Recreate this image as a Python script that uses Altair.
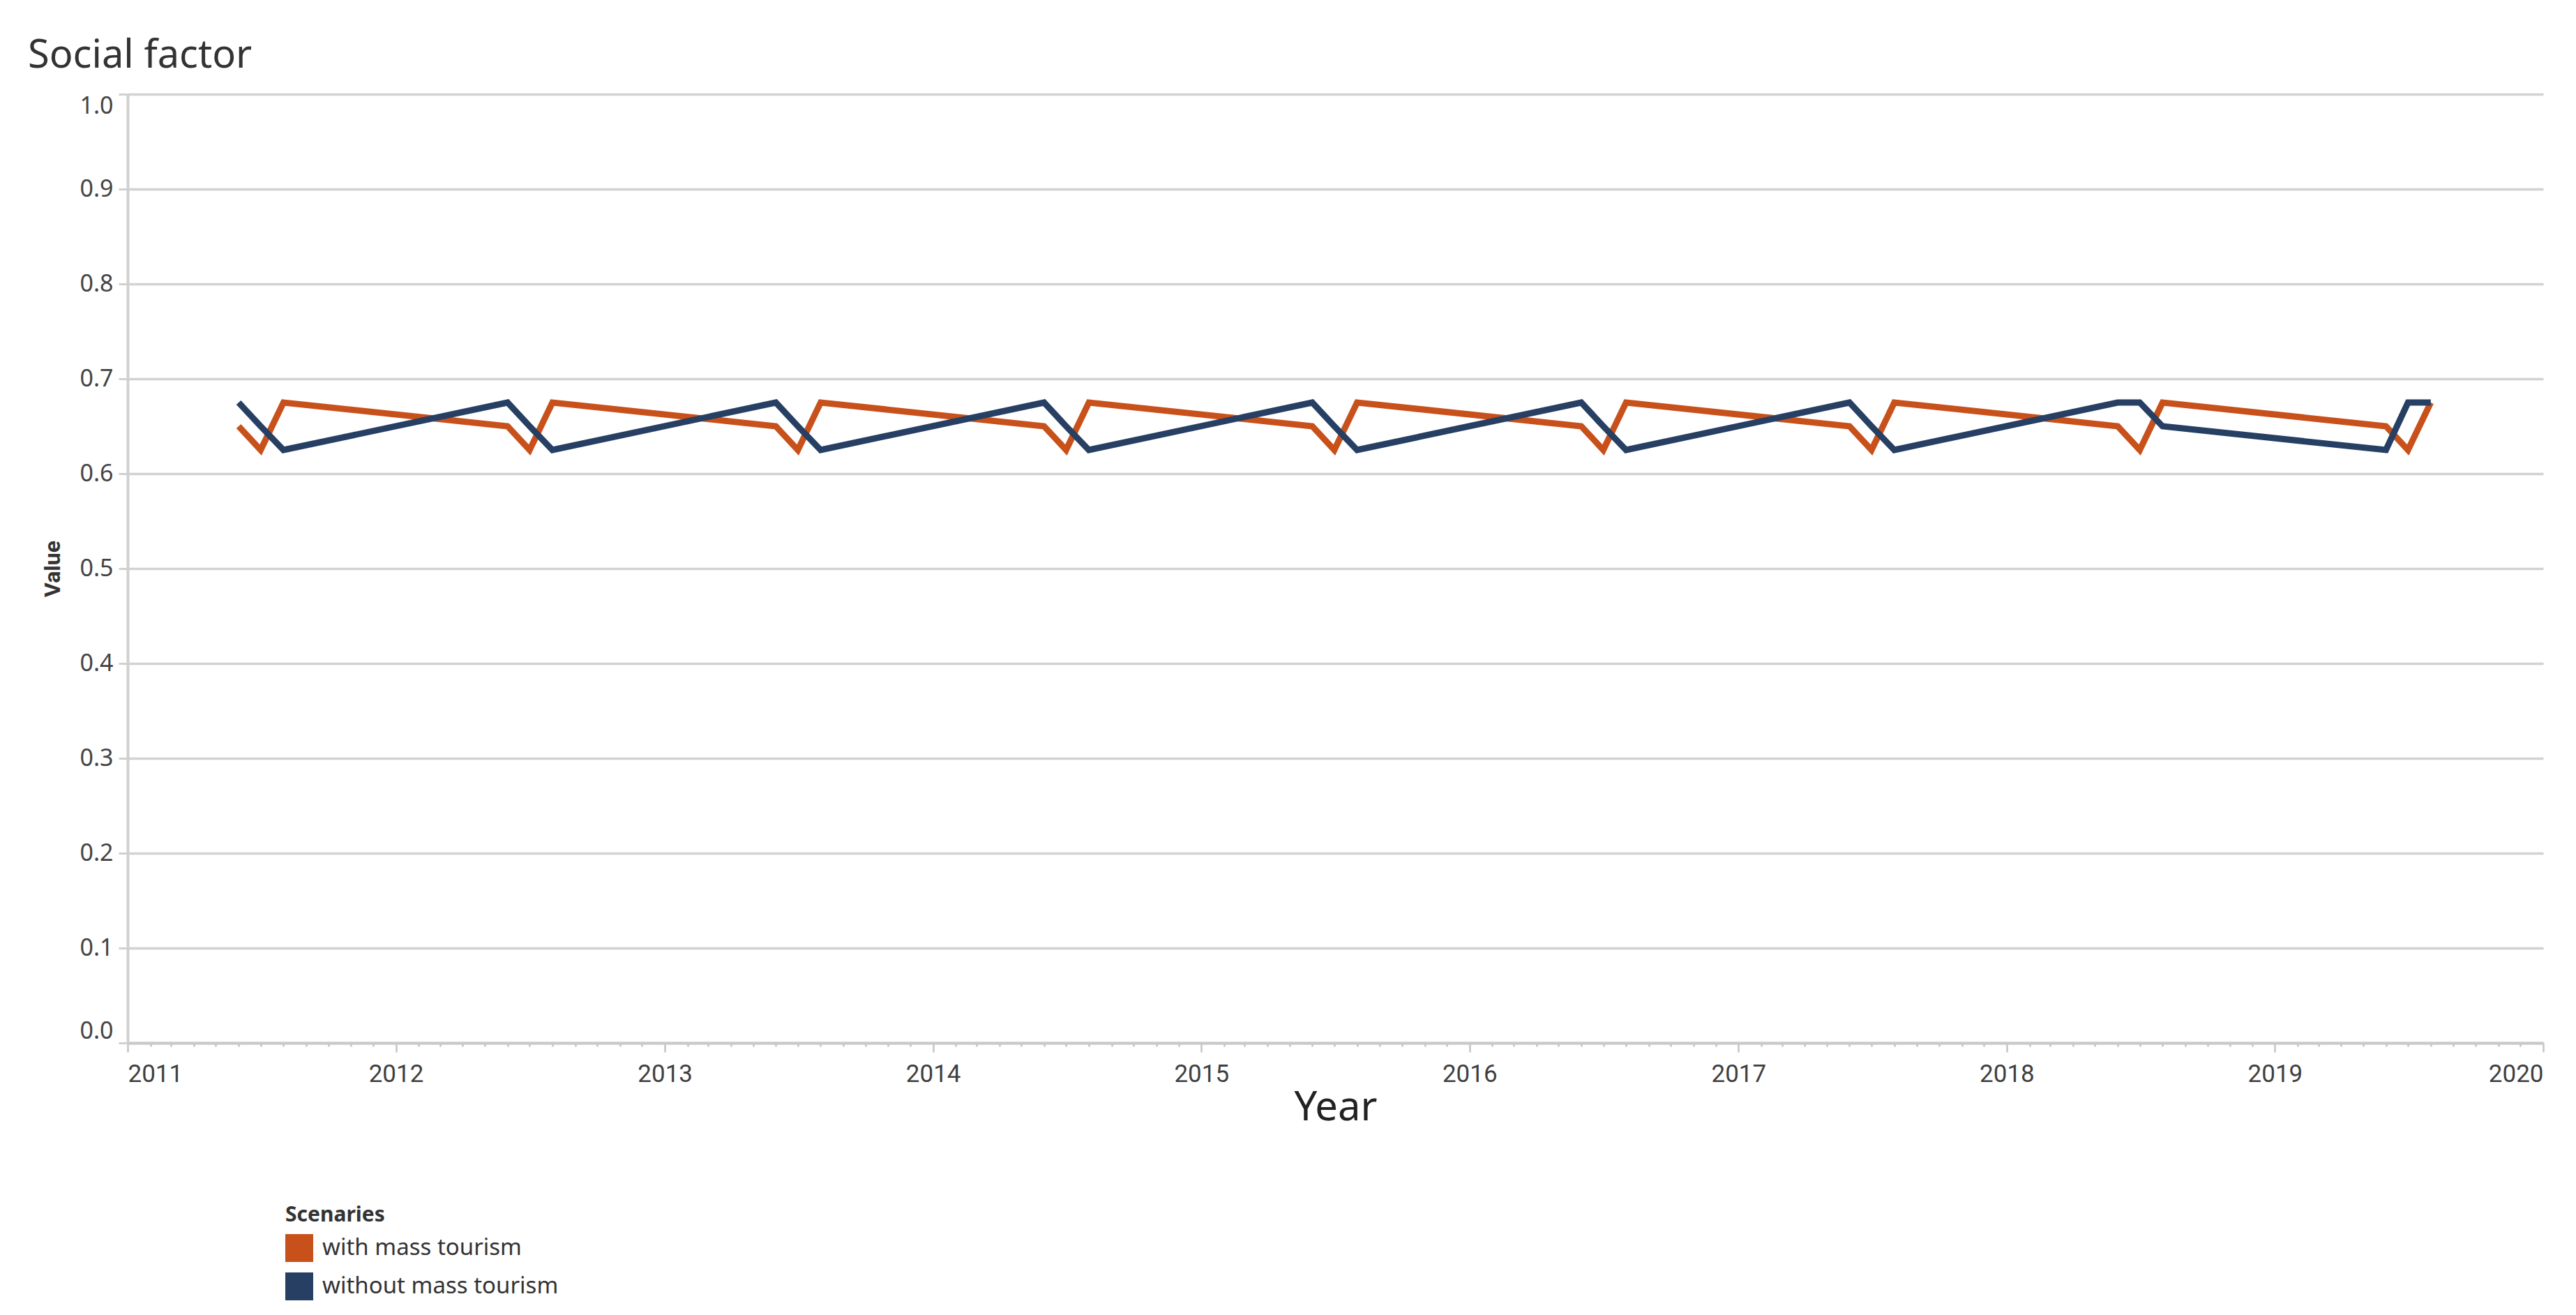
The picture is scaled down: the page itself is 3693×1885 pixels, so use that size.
import altair as alt
import pandas as pd

# ---- data ----
years = [2011, 2012, 2013, 2014, 2015, 2016, 2017, 2018, 2019]
months = ["06", "07", "08"]
scenarios = ["with mass tourism", "without mass tourism"]
colors = ["#C8511B", "#263F63"]

with_mass_tourism = [
    0.65, 0.625, 0.675,
    0.65, 0.625, 0.675,
    0.65, 0.625, 0.675,
    0.65, 0.625, 0.675,
    0.65, 0.625, 0.675,
    0.65, 0.625, 0.675,
    0.65, 0.625, 0.675,
    0.65, 0.625, 0.675,
    0.65, 0.625, 0.675,
]
without_mass_tourism = [
    0.675, 0.65, 0.625,
    0.675, 0.65, 0.625,
    0.675, 0.65, 0.625,
    0.675, 0.65, 0.625,
    0.675, 0.65, 0.625,
    0.675, 0.65, 0.625,
    0.675, 0.65, 0.625,
    0.675, 0.675, 0.65,
    0.625, 0.675, 0.675,
]
y_ticks = [0.0, 0.1, 0.2, 0.3, 0.4, 0.5, 0.6, 0.7, 0.8, 0.9, 1.0]

dates = [f"{y}-{m}-01T00:00:00" for y in years for m in months]
rows = []
for name, vals in zip(scenarios, [with_mass_tourism, without_mass_tourism]):
    for d, v in zip(dates, vals):
        rows.append({"date": d, "value": v, "scenario": name})
df = pd.DataFrame(rows)

W, H = 3463, 1360

x_enc = alt.X(
    "date:T",
    scale=alt.Scale(domain=[alt.DateTime(year=2011, month=1, date=1),
                            alt.DateTime(year=2020, month=1, date=1)]),
    axis=alt.Axis(
        title="Year",
        titleFontSize=58,
        titleFont="Noto Sans",
        titleFontWeight="normal",
        titleColor="#222222",
        titleX=W / 2,
        titleY=93,
        titleBaseline="middle",
        tickCount={"interval": "month", "step": 1},
        labelExpr="month(datum.value) == 0 ? timeFormat(datum.value, '%Y') : ''",
        labelOverlap=False,
        labelFlush=True,
        labelFont="Roboto",
        labelFontSize=35,
        labelColor="#3f3f3f",
        labelPadding=14,
        tickSize={"condition": {"test": "month(datum.value) == 0", "value": 13}, "value": 5},
        tickColor="#c4c4c4",
        tickWidth=2.5,
        domainColor="#c8c8c8",
        domainWidth=4,
        grid=False,
    ),
)

y_enc = alt.Y(
    "value:Q",
    scale=alt.Scale(domain=[0, 1], nice=False, zero=False),
    axis=alt.Axis(
        title="Value",
        titleFont="Roboto",
        titleFontSize=32,
        titleFontWeight="bold",
        titleColor="#333333",
        titleAngle=-90,
        titleX=-108,
        titleY=H / 2,
        titleAlign="center",
        titleBaseline="middle",
        values=y_ticks,
        format=".1f",
        labelFont="Noto Sans",
        labelFontSize=34,
        labelColor="#444444",
        labelPadding=8,
        labelFlush=True,
        tickSize=13,
        tickColor="#d0d0d0",
        tickWidth=3,
        domainColor="#d0d0d0",
        domainWidth=4,
        grid=True,
        gridColor="#d2d2d2",
        gridWidth=3.5,
    ),
)

color_scale = alt.Scale(domain=scenarios, range=colors)

base = alt.Chart(df).encode(x=x_enc, y=y_enc)

# invisible filled squares: only used to give the legend filled square swatches
legend_layer = base.mark_square(filled=True, opacity=0, size=1).encode(
    color=alt.Color(
        "scenario:N",
        scale=color_scale,
        legend=alt.Legend(
            title="Scenaries",
            orient="none",
            legendX=226,
            legendY=1592,
            symbolType="square",
            symbolSize=1600,
            symbolOpacity=1,
            symbolStrokeWidth=0,
            titleFont="Noto Sans",
            titleFontSize=30,
            titleFontWeight="bold",
            titleColor="#333333",
            labelFont="Noto Sans",
            labelFontSize=33,
            labelColor="#333333",
            labelLimit=0,
            labelOffset=13,
            rowPadding=15,
            titlePadding=12,
        ),
    )
)

lines = base.mark_line(strokeWidth=9).encode(
    color=alt.Color("scenario:N", scale=color_scale, legend=None)
)

chart = (
    alt.layer(legend_layer, lines)
    .properties(
        width=W,
        height=H,
        title=alt.TitleParams(
            "Social factor",
            anchor="start",
            frame="group",
            dx=-143,
            dy=66,
            offset=47,
            baseline="alphabetic",
            font="Noto Sans",
            fontSize=56,
            fontWeight="normal",
            color="#333333",
        ),
        padding={"left": 175, "top": 127, "right": 30, "bottom": 375},
        autosize="none",
    )
    .configure_view(stroke=None)
)

chart.save("out.html", embed_options={"renderer": "svg", "actions": False})
